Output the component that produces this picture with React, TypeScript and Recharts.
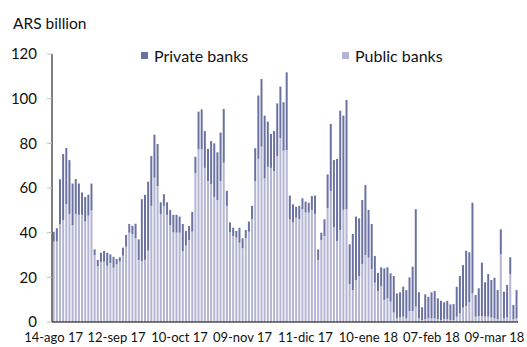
import React from 'react';
import { BarChart, Bar, XAxis, YAxis } from 'recharts';

// business days, first one is 14-ago 17
const tickLabels = ['14-ago 17', '12-sep 17', '10-oct 17', '09-nov 17', '11-dic 17', '10-ene 18', '07-feb 18', '09-mar 18'];
const tickIndexes = [0, 20, 40, 60, 80, 100, 120, 140];
const yTicks = [0, 20, 40, 60, 80, 100, 120];

const publicBanks = [
  36, 36, 43.7, 45.7, 52.8, 48.4, 43.4, 48.4, 48, 48, 45, 47.6, 50, 30, 25, 26.9, 27, 25.2, 26.4, 24.3,
  25.8, 27, 29.7, 33.7, 40, 39.3, 37.5, 27.8, 27.3, 27.8, 32, 52, 64.6, 60.9, 48.2, 52, 48, 43.4, 40.2, 40,
  40, 31.8, 34.2, 36.7, 40.4, 66.6, 77.3, 77.3, 69, 63.1, 61.7, 56, 54.6, 63.1, 71.3, 52, 40.2, 38.5, 37.8, 35.5,
  33, 37.5, 40.4, 46.1, 63.1, 73.1, 78.5, 64.3, 69.5, 69, 67.6, 74.3, 82.3, 76.7, 77, 46, 44.6, 46.7, 46, 50.5,
  49, 49, 50.2, 48.4, 27.8, 36.7, 38.5, 50.9, 58.7, 42.4, 36.3, 41.2, 50.2, 50.6, 17, 14.3, 18.8, 20.6, 26, 30,
  28.8, 23.7, 17.6, 13.9, 16.1, 9.9, 10.6, 9.1, 4.3, 1.6, 2, 2.4, 1.6, 4.9, 4.9, 6.9, 1.6, 0.9, 1.2, 1.6,
  1.6, 1.6, 1.2, 0.9, 1.2, 1.2, 0.9, 0.9, 2.4, 3.9, 6.4, 7.2, 8.8, 12.8, 2.4, 2.6, 2.6, 2.4, 2.4, 2,
  1.6, 1.2, 30.4, 1.6, 2, 21.5, 1.2, 1.6,
];

const privateBanks = [
  4.4, 6, 20.2, 29.5, 25.1, 24.1, 18.6, 15.6, 14, 10, 11, 9.4, 12, 2.5, 2.8, 4.1, 4.8, 5.8, 3.9, 4.9,
  2.4, 2, 3.6, 5.3, 3.9, 3.8, 6.5, 9.2, 27.7, 29.1, 30.8, 22.3, 19.3, 18.8, 5.4, 5.2, 5.6, 6.8, 7.8, 8,
  7.2, 12.1, 6.6, 6.3, 8.9, 7.4, 16.9, 17.9, 16.5, 14.4, 19.3, 24, 21.4, 21.7, 24.1, 6.7, 4.4, 3.7, 3, 6.7,
  4.5, 3.7, 4.6, 5.9, 14.7, 28.3, 30.3, 28.1, 20.2, 15.2, 17.9, 23.6, 23.1, 21.7, 34.8, 10.6, 8.1, 4.9, 6, 4.9,
  4.9, 4.4, 6.2, 8.2, 4.7, 3.3, 7.5, 15.2, 30, 30.1, 36.7, 53.4, 42.2, 48.8, 17.8, 25.1, 28.4, 25.8, 28.6, 31.3,
  21.4, 20.2, 12, 8.1, 8.4, 14.1, 13.9, 12.7, 16.3, 11.2, 11.3, 13.4, 12.7, 15.1, 19.9, 43.6, 11.7, 5.7, 11.2, 9.7,
  11.7, 12.3, 9.4, 8.6, 7.6, 8.3, 7, 7.1, 13.4, 16.7, 19.1, 24.7, 22.4, 40.6, 9.7, 12.5, 24, 15.4, 19.1, 16.8,
  18.2, 13.1, 11.1, 12, 14.6, 7.5, 6.4, 12.7,
];

const PRIVATE_COLOR = '#6a72a2';
const PUBLIC_COLOR = '#b3b5d3';
const FONT = 'Lato, sans-serif';
const TEXT = '#111';

const data = publicBanks.map((p, i) => ({ i, public: p, private: privateBanks[i] }));

function LegendItem({ left, color, label }: { left: number; color: string; label: string }) {
  return (
    <div style={{ position: 'absolute', left, top: 46, display: 'flex', alignItems: 'center', fontFamily: FONT, fontSize: 16, color: TEXT }}>
      <span style={{ width: 7, height: 7, background: color, display: 'inline-block', marginRight: 6 }} />
      <span>{label}</span>
    </div>
  );
}

export default function App() {
  return (
    <div style={{ position: 'absolute', left: 0, top: 0, width: 527, height: 347, background: '#fff' }}>
      <div style={{ position: 'absolute', left: 13, top: 14, fontFamily: FONT, fontSize: 15.5, color: TEXT }}>
        ARS billion
      </div>
      <BarChart
        width={527}
        height={347}
        data={data}
        margin={{ top: 54, right: 9, bottom: 0, left: 0 }}
        barCategoryGap="22%"
      >
        <XAxis
          dataKey="i"
          type="category"
          ticks={tickIndexes}
          interval={0}
          tickFormatter={(v: number) => tickLabels[tickIndexes.indexOf(v)] ?? ''}
          tickLine={false}
          axisLine={{ stroke: '#000' }}
          tick={{ fontSize: 13, fontFamily: FONT, fill: TEXT }}
          tickMargin={5}
          height={25}
        />
        <YAxis
          domain={[0, 120]}
          ticks={yTicks}
          interval={0}
          width={52}
          axisLine={{ stroke: '#000' }}
          tickLine={{ stroke: '#bfbfbf' }}
          tickSize={5}
          tickMargin={10}
          tick={{ fontSize: 15, fontFamily: FONT, fill: TEXT }}
        />
        <Bar dataKey="public" name="Public banks" stackId="a" fill={PUBLIC_COLOR} isAnimationActive={false} />
        <Bar dataKey="private" name="Private banks" stackId="a" fill={PRIVATE_COLOR} isAnimationActive={false} />
      </BarChart>
      <LegendItem left={141} color={PRIVATE_COLOR} label="Private banks" />
      <LegendItem left={342} color={PUBLIC_COLOR} label="Public banks" />
    </div>
  );
}
